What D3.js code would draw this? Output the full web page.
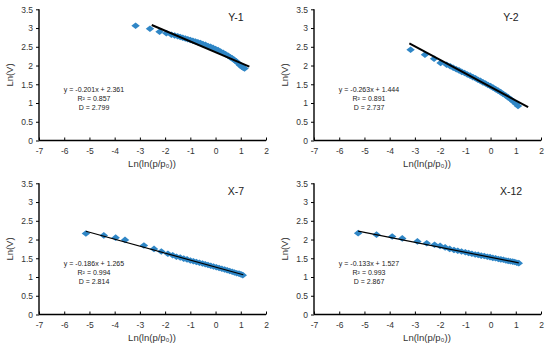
<!DOCTYPE html>
<html>
<head>
<meta charset="utf-8">
<script src="https://d3js.org/d3.v7.min.js"></script>
<style>
body { margin: 0; background: #fff; }
svg { font-family: "Liberation Sans", Arial, sans-serif; }
</style>
</head>
<body>
<svg width="550" height="348"></svg>
<script>
var svg = d3.select("svg");

// sample names
var names = ["Y-1", "Y-2", "X-7", "X-12"];

// data
var y1X = [-3.17,-2.60,-2.22,-1.95,-1.75,-1.62,-1.50,-1.40,-1.30,-1.20,-1.10,-1.00,-0.90,-0.80,-0.70,-0.60,-0.50,-0.40,-0.30,-0.20,-0.10,0.00,0.10,0.20,0.30,0.40,0.50,0.58,0.66,0.74,0.82,0.90,0.97,1.04,1.10,1.15];
var y1Y = [3.06,2.98,2.90,2.86,2.82,2.80,2.78,2.76,2.74,2.72,2.70,2.68,2.66,2.64,2.62,2.60,2.57,2.55,2.52,2.50,2.47,2.44,2.41,2.37,2.34,2.30,2.26,2.22,2.19,2.15,2.11,2.06,2.01,1.97,1.94,1.92];

var y2X = [-3.17,-2.60,-2.24,-1.98,-1.74,-1.60,-1.48,-1.36,-1.25,-1.14,-1.03,-0.92,-0.81,-0.70,-0.60,-0.50,-0.40,-0.30,-0.20,-0.10,0.00,0.10,0.20,0.30,0.40,0.50,0.60,0.70,0.80,0.90,1.00,1.09];
var y2Y = [2.42,2.29,2.18,2.07,2.02,1.98,1.94,1.90,1.87,1.83,1.80,1.76,1.73,1.69,1.66,1.62,1.59,1.55,1.52,1.48,1.45,1.41,1.37,1.33,1.29,1.24,1.20,1.15,1.10,1.04,0.98,0.92];

var x7X = [-5.14,-4.43,-3.96,-3.59,-2.84,-2.44,-2.15,-1.89,-1.70,-1.55,-1.40,-1.26,-1.13,-1.00,-0.88,-0.76,-0.64,-0.52,-0.41,-0.30,-0.19,-0.08,0.03,0.14,0.25,0.36,0.46,0.56,0.66,0.75,0.84,0.93,1.01,1.08];
var x7Y = [2.16,2.11,2.05,1.99,1.84,1.75,1.68,1.62,1.58,1.54,1.52,1.49,1.47,1.44,1.42,1.40,1.38,1.36,1.34,1.32,1.30,1.28,1.26,1.24,1.22,1.20,1.18,1.16,1.14,1.12,1.10,1.09,1.07,1.05];

var x12X = [-5.25,-4.52,-3.90,-3.50,-2.90,-2.53,-2.22,-2.00,-1.80,-1.62,-1.45,-1.30,-1.15,-1.00,-0.87,-0.74,-0.61,-0.49,-0.37,-0.25,-0.13,-0.02,0.09,0.20,0.31,0.41,0.51,0.61,0.70,0.79,0.88,0.96,1.04,1.12];
var x12Y = [2.17,2.13,2.08,2.03,1.95,1.90,1.86,1.83,1.79,1.75,1.72,1.70,1.68,1.66,1.64,1.62,1.60,1.59,1.57,1.56,1.54,1.53,1.51,1.50,1.48,1.47,1.46,1.44,1.43,1.42,1.41,1.40,1.38,1.37];

// trend lines as drawn
var fitSlope = [-0.287, -0.361, -0.186, -0.133];
var fitIntercept = [2.354, 1.428, 1.265, 1.527];
var fitFrom = [-2.53, -3.22, -5.14, -5.25];
var fitTo = [1.34, 1.49, 1.10, 1.12];

// labels
var eqText = ["y = -0.201x + 2.361", "y = -0.263x + 1.444", "y = -0.186x + 1.265", "y = -0.133x + 1.527"];
var r2Text = ["0.857", "0.891", "0.994", "0.993"];
var dText = ["2.799", "2.737", "2.814", "2.867"];

var xTicks = [-7,-6,-5,-4,-3,-2,-1,0,1,2];
var yTicks = [0,0.5,1,1.5,2,2.5,3,3.5];

var seriesX = [y1X, y2X, x7X, x12X];
var seriesY = [y1Y, y2Y, x7Y, x12Y];
var offsets = [[0,0],[275,0],[0,174],[275,174]];
var lineW = [2, 2, 1.2, 1.2];

var x = d3.scaleLinear().domain([-7, 2]).range([39, 266]);
var y = d3.scaleLinear().domain([0, 3.5]).range([140.5, 9.3]);

// excel-like diamond: a rotated square, slightly flattened
var square = d3.symbol().type(d3.symbolSquare).size(27);

for (var p = 0; p < 4; p++) {
    var g = svg.append("g").attr("transform", "translate(" + offsets[p][0] + "," + offsets[p][1] + ")");

    // x axis, ticks point up into the plot
    var xa = g.append("g").attr("transform", "translate(0," + y(0) + ")")
        .call(d3.axisBottom(x).tickValues(xTicks).tickSize(-3).tickPadding(7).tickFormat(d3.format("d")));
    // y axis
    var ya = g.append("g").attr("transform", "translate(" + x(-7) + ",0)")
        .call(d3.axisLeft(y).tickValues(yTicks).tickSize(3).tickPadding(3).tickFormat(function(d){ return d; }));
    [xa, ya].forEach(function(a) {
        a.select(".domain").attr("stroke", "#000").attr("stroke-width", 1.4);
        a.selectAll(".tick line").attr("stroke", "#000").attr("stroke-width", 1);
        a.selectAll("text").attr("fill", "#333").attr("font-size", 8.5).attr("font-family", "Liberation Sans, Arial");
    });
    xa.select(".domain").attr("d", "M" + x(-7) + ",0H" + x(2));
    ya.select(".domain").attr("d", "M0," + y(0) + "V" + y(3.5));
    xa.selectAll("text").text(function(d){ return d < 0 ? "-" + Math.abs(d) : d; });

    // markers
    var pts = seriesX[p].map(function(v, i){ return [v, seriesY[p][i]]; });
    g.selectAll("path.pt").data(pts).enter().append("path")
        .attr("class", "pt")
        .attr("d", square)
        .attr("transform", function(d){ return "translate(" + x(d[0]) + "," + y(d[1]) + ") scale(1.15,0.9) rotate(45)"; })
        .attr("fill", "#2f86c6");

    // trend line
    g.append("line")
        .attr("x1", x(fitFrom[p])).attr("y1", y(fitSlope[p] * fitFrom[p] + fitIntercept[p]))
        .attr("x2", x(fitTo[p])).attr("y2", y(fitSlope[p] * fitTo[p] + fitIntercept[p]))
        .attr("stroke", "#000").attr("stroke-width", lineW[p]);

    // equation block
    var eq = g.append("g").attr("font-size", 7).attr("fill", "#222").attr("text-anchor", "middle");
    eq.append("text").attr("x", 94).attr("y", 92).text(eqText[p]);
    eq.append("text").attr("x", 94).attr("y", 101).text("R\u00B2 = " + r2Text[p]);
    eq.append("text").attr("x", 94).attr("y", 110).text("D = " + dText[p]);

    // sample name
    g.append("text").attr("x", 236).attr("y", 21).attr("text-anchor", "middle")
        .attr("font-size", 10.5).attr("fill", "#222").text(names[p]);

    // axis titles
    g.append("text").attr("transform", "translate(13,75) rotate(-90)").attr("text-anchor", "middle")
        .attr("font-size", 9.5).attr("fill", "#333").text("Ln(V)");
    g.append("text").attr("x", 152).attr("y", 167).attr("text-anchor", "middle")
        .attr("font-size", 9.5).attr("fill", "#333").text("Ln(ln(p/p\u2080))");
}
</script>
</body>
</html>
